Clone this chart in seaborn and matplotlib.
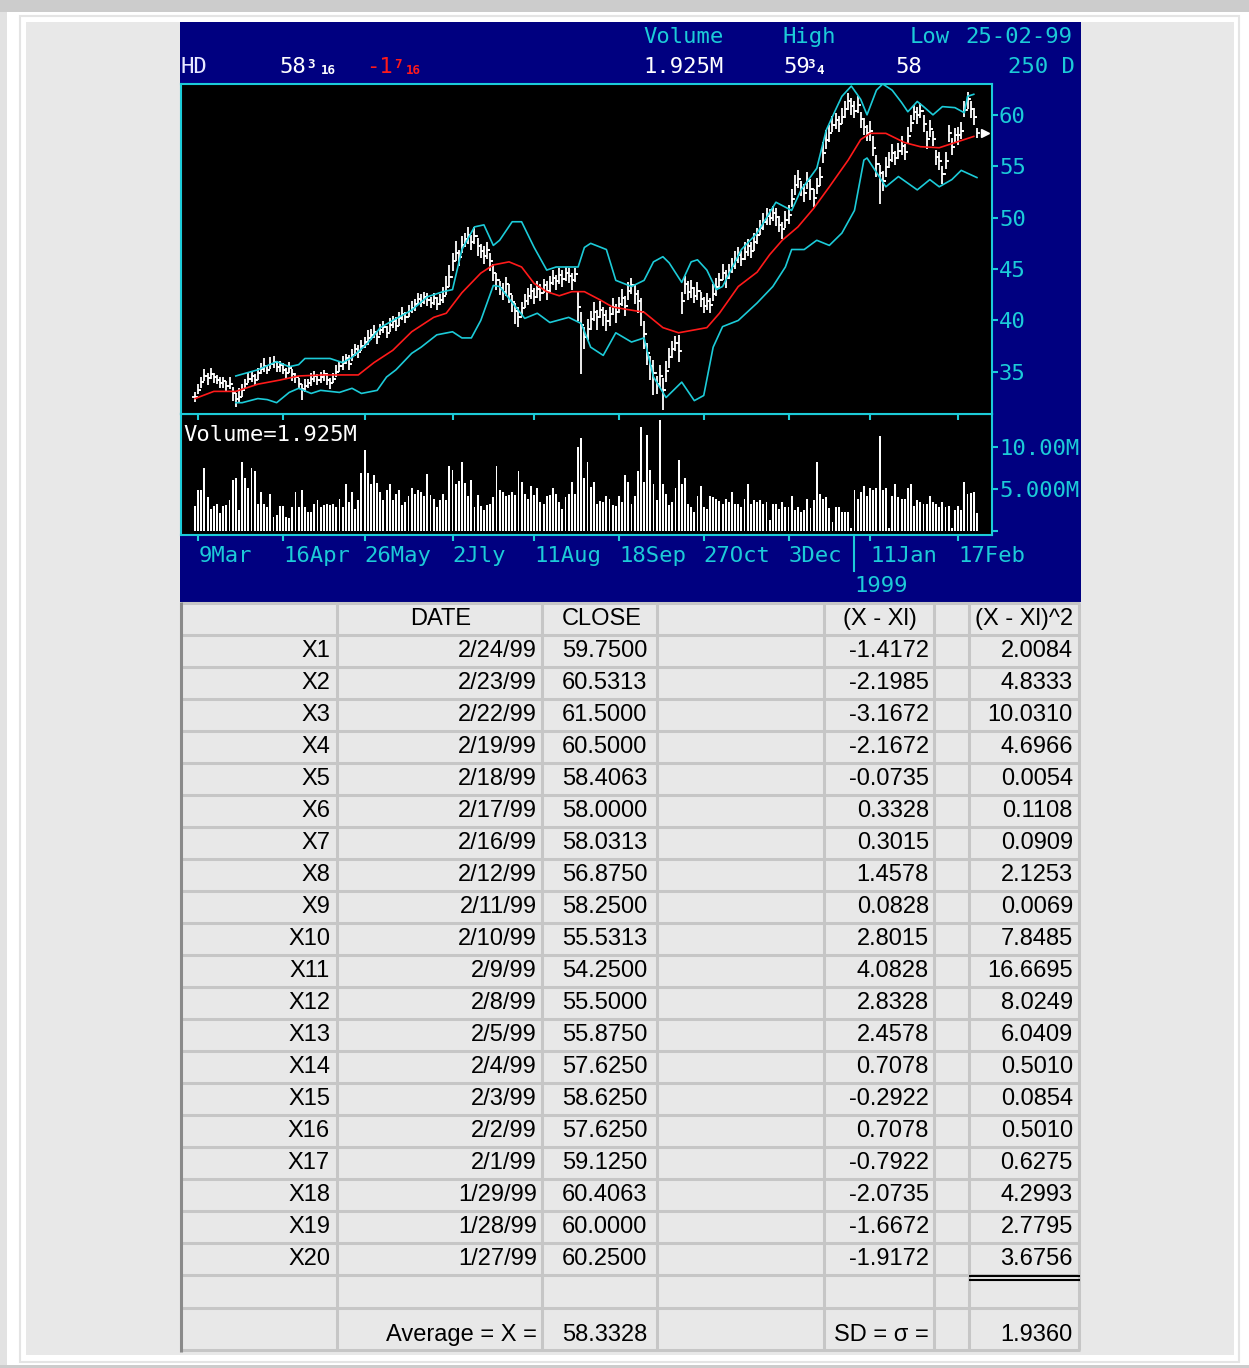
#
# plot.py
#   - HD 250-day bar chart with Bollinger bands, volume and a close-price table.
#

import numpy as np
import seaborn as sns
import matplotlib.pyplot as plt
from matplotlib.patches import Rectangle
from matplotlib import transforms

# ---- price history (daily closes, 9 Mar 98 .. 26 Jan 99) ----
close_hist = [
    32.6, 33.2, 34.0, 34.6, 34.4, 34.8, 34.5, 34.2, 33.9, 34.1,
    33.6, 33.8, 32.9, 32.4, 32.6, 33.2, 33.8, 34.3, 34.6, 34.2,
    34.9, 35.3, 35.6, 35.2, 35.8, 36.0, 35.5, 35.7, 35.2, 34.9,
    35.4, 34.8, 34.5, 33.8, 33.3, 33.6, 33.9, 34.3, 34.6, 34.2,
    34.5, 34.8, 34.2, 33.9, 34.3, 35.0, 35.6, 35.9, 36.3, 35.8,
    36.6, 37.2, 36.9, 37.5, 37.9, 38.3, 38.6, 38.9, 38.4, 39.1,
    39.4, 38.8, 39.6, 39.9, 39.5, 40.2, 40.6, 40.3, 40.9, 41.2,
    41.6, 42.1, 41.8, 42.3, 42.0, 41.7, 42.2, 41.6, 42.0, 42.4,
    43.3, 44.2, 45.8, 46.6, 46.2, 47.3, 47.9, 48.3, 47.6, 48.2,
    47.2, 46.8, 46.3, 46.9, 45.8, 44.6, 43.9, 43.2, 42.8, 43.5,
    42.6, 41.8, 40.9, 40.3, 41.2, 41.9, 42.4, 42.9, 42.3, 43.1,
    42.7, 43.4, 42.9, 43.6, 44.1, 43.8, 44.4, 44.0, 44.6, 44.3,
    43.9, 44.5, 41.3, 39.6, 38.4, 39.2, 40.1, 40.8, 40.3, 41.0,
    40.5, 39.9, 40.6, 41.3, 40.8, 41.6, 42.2, 41.4, 42.9, 43.4,
    42.6, 41.9, 40.8, 38.7, 36.8, 35.6, 34.9, 33.8, 34.6, 33.2,
    35.1, 36.4, 37.2, 37.8, 37.0, 41.9, 43.5, 42.8, 43.2, 42.4,
    42.9, 42.1, 41.4, 41.9, 41.5, 42.6, 43.3, 43.9, 44.6, 44.1,
    44.8, 45.3, 45.9, 46.4, 46.0, 46.7, 47.2, 46.8, 47.6, 48.3,
    49.0, 49.6, 50.2, 50.0, 50.5, 50.1, 49.3, 48.9, 49.8, 50.3,
    51.8, 53.2, 53.8, 52.9, 52.4, 53.6, 52.8, 51.9, 53.1, 54.0,
    56.3, 57.6, 58.2, 59.0, 59.5, 59.1, 59.8, 60.6, 61.3, 60.9,
    60.4, 61.0, 59.6, 58.8, 58.2, 58.4, 56.8, 55.2, 54.3, 53.6,
    54.9, 55.6, 56.3, 55.8, 56.5, 57.0, 56.4, 57.9, 59.2,
]
last_close = 58.1875

# how far each bar's high / low reaches beyond the close
hi_ext = [
    .4, .6, .5, .7, .5, .6, .4, .5, .6, .4, .5, .7, .6, .5, .8, .6, .5, .7, .4, .6, .5, .6, .7, .5, .6,
    .5, .6, .4, .7, .5, .6, .5, .4, .6, .5, .7, .4, .6, .5, .6, .5, .4, .7, .5, .6, .7, .5, .6, .4, .8,
    .6, .5, .7, .6, .5, .8, .6, .7, .5, .6, .5, .7, .6, .5, .8, .6, .7, .5, .6, .7, .5, .6, .8, .5, .7,
    .6, .5, .7, .6, .9, 1.0, 1.2, .8, 1.1, .7, .9, .6, .8, .7, .9, .8, .6, .9, .7, .8, .9, .7, .6, .8, .7,
    .9, .7, .8, 1.0, .6, .7, .8, .6, .9, .7, .8, .6, .9, .7, .8, .6, .7, .9, .6, .8, .7, .6, 1.5, 1.2, 1.0,
    .9, .8, 1.0, .7, .9, .8, 1.1, .7, .9, .8, .7, .9, 1.0, .8, .7, .9, 1.1, 1.4, 1.2, 1.0, .9, 1.3, .8, 1.1, 1.2,
    1.0, .9, .8, .7, 1.6, .9, .8, 1.0, .7, .9, .8, .7, .9, .8, .7, .9, .8, .7, .9, .8, .7, .8, .9, .7, .8,
    .9, .7, .8, .9, .7, .8, .9, .7, .8, .6, .8, .9, .7, .8, .9, 1.0, .9, .8, .7, .9, .8, 1.0, .9, .8, .9,
    1.1, .9, .8, .9, .7, .8, .9, .7, .8, .7, .9, .8, .7, .9, .8, 1.0, 1.1, .9, .8, .9, 1.0, .8, .9, .7, .8,
    .9, .8, .9, .8, .7, .8, .7, .9, .8, .9, .8, .7, .9, .8, .9, .8, .9, .7, .8, .9, .8, .7, .8, .9, .5,
]
lo_ext = [
    .5, .4, .6, .5, .7, .5, .6, .4, .5, .7, .6, .5, .7, .8, .5, .6, .5, .4, .6, .5, .7, .5, .6, .4, .5,
    .6, .5, .7, .4, .6, .5, .7, .6, .5, 1.0, .6, .5, .7, .6, .5, .6, .7, .5, .6, .4, .5, .6, .7, .5, .6,
    .5, .7, .6, .5, .6, .7, .5, .6, .7, .5, .6, .5, .7, .6, .5, .7, .6, .5, .6, .5, .7, .6, .5, .7, .6,
    .5, .7, .6, .5, .7, .8, .9, 1.0, .8, .9, .7, .8, .9, .7, .8, .9, .7, .8, .9, 1.0, .8, .9, .7, .8, 1.1,
    .9, 1.0, 1.2, .9, .8, .7, .9, .8, .7, .9, .8, .7, .9, .8, .7, .8, .9, .7, .8, .7, .9, .8, 1.4, 4.8, 1.2,
    1.1, 1.0, .9, 1.2, .8, 1.0, .9, 1.1, .8, 1.0, .9, .8, 1.0, .9, .8, 1.0, 1.2, 1.3, 1.5, 1.1, 1.4, 2.2, 1.0, 1.2, 1.9,
    1.1, 1.0, .9, .8, 1.0, 1.3, .9, .8, 1.0, .7, .9, .8, .7, .9, .8, .7, .9, .8, .7, .9, .8, .7, .9, .8, .7,
    .8, .9, .7, .8, .9, .7, .8, .9, .7, .8, .9, .7, 1.0, .8, .9, .8, 1.0, .9, .8, .9, .8, 1.1, .9, .8, .9,
    1.0, .9, .8, .7, .9, .8, .7, .9, .8, .9, .7, .8, .9, .8, .7, .9, .8, 1.2, 3.0, 1.0, .9, .8, .9, .7, .8,
    .9, .8, .7, .9, .8, .9, .7, .8, .9, .8, .7, .8, .9, 1.0, .8, .9, .8, .7, .9, .8, .7, .9, .8, .7, .4,
]

# daily volume, millions of shares
volume = [
    3.0, 4.9, 4.9, 7.5, 4.0, 2.6, 3.0, 3.2, 2.1, 3.0,
    3.1, 3.7, 6.1, 6.3, 2.5, 8.2, 6.3, 5.1, 7.5,
    7.1, 3.2, 4.6, 3.2, 2.9, 4.4, 1.7, 1.9, 3.0,
    3.0, 1.7, 1.6, 2.9, 4.6, 2.8, 4.9, 2.8, 2.3,
    2.3, 3.2, 3.7, 2.9, 3.1, 3.2, 3.1, 3.2, 2.9, 3.8,
    2.8, 5.6, 3.5, 4.6, 2.6, 3.7, 6.9, 9.6, 6.9,
    5.6, 6.7, 5.7, 4.6, 3.7, 4.9, 5.6, 3.7, 4.4,
    4.9, 3.1, 3.4, 4.2, 5.1, 4.4, 4.9, 4.6, 4.2, 6.8,
    4.3, 3.8, 2.9, 3.7, 4.4, 3.7, 7.7, 7.3, 5.6,
    5.9, 8.2, 5.7, 4.2, 6.1, 2.9, 4.3, 3.0, 2.5,
    3.1, 3.2, 4.1, 7.7, 4.9, 4.6, 4.2, 4.3, 4.6,
    4.3, 7.1, 5.8, 4.4, 3.8, 5.4, 4.3, 5.1, 3.5,
    3.2, 4.2, 4.3, 5.1, 4.4, 3.5, 2.6, 4.1, 4.4,
    5.8, 4.4, 10.0, 11.1, 6.3, 8.2, 5.2, 5.8, 3.2,
    3.6, 3.4, 4.2, 3.8, 3.1, 3.0, 4.2, 3.5, 6.7,
    5.8, 3.2, 4.2, 7.1, 12.4, 5.8, 11.4, 7.3, 5.6, 3.7,
    13.2, 5.6, 4.4, 3.1, 3.5, 5.1, 8.5, 5.6, 6.3, 3.2,
    2.8, 2.3, 4.2, 5.4, 2.9, 2.6, 4.2, 4.0, 3.8, 3.6,
    3.2, 3.8, 3.4, 4.6, 3.2, 3.2, 2.8, 3.8, 5.6, 3.2,
    3.7, 3.5, 3.7, 3.2, 3.5, 1.3, 3.2, 3.2, 2.6, 3.5,
    2.9, 2.8, 4.2, 2.5, 2.9, 2.3, 2.5, 3.8, 2.7, 3.7,
    8.2, 4.4, 3.8, 4.0, 2.7, 1.1, 2.8, 2.8, 2.3, 2.3,
    2.3, 0.4, 4.9, 3.8, 4.6, 5.4, 4.2, 5.1, 4.9, 5.1,
    11.3, 4.9, 5.1, 0.4, 4.2, 5.6, 4.0, 3.8, 3.8, 5.1,
    5.6, 3.0, 3.7, 3.4, 3.2, 3.2, 4.2, 3.5, 3.2, 2.9,
    3.5, 2.9, 3.0, 0.4, 2.5, 3.0, 2.5, 5.8, 4.4, 4.5,
    4.6, 2.1,
]

# moving average and Bollinger bands (day index, price)
ma_day = [0, 6, 13, 20, 27, 33, 41, 52, 57, 63, 69, 76, 80, 85, 91, 95, 100, 104, 108, 112,
          116, 120, 124, 129, 133, 139, 143, 149, 154, 163, 167, 173, 179, 183, 187, 192, 197,
          202, 208, 212, 215, 220, 226, 231, 237, 243, 248]
ma_val = [32.4, 33.1, 33.1, 33.8, 34.2, 34.6, 34.7, 34.7, 35.9, 37.1, 38.9, 40.3, 40.7, 42.7,
          44.6, 45.4, 45.7, 45.2, 43.6, 42.8, 42.4, 42.8, 42.8, 42.0, 41.3, 41.0, 40.8, 39.3,
          38.8, 39.3, 40.7, 43.3, 44.7, 46.4, 47.8, 49.1, 50.9, 53.0, 55.6, 57.6, 58.2, 58.2,
          57.3, 56.9, 56.8, 57.4, 57.9]
up_day = [13, 20, 26, 30, 33, 35, 43, 47, 50, 55, 59, 63, 69, 74, 79, 82, 85, 89, 92, 95,
          97, 101, 104, 108, 112, 115, 122, 124, 126, 131, 134, 139, 143, 146, 149, 151, 155,
          158, 160, 163, 166, 168, 174, 179, 185, 190, 193, 198, 201, 204, 206, 209, 212, 214,
          217, 219, 222, 225, 227, 230, 232, 235, 238, 242, 245, 246, 248]
up_val = [34.6, 35.2, 36.0, 35.5, 35.7, 36.3, 36.3, 35.9, 36.4, 37.8, 39.3, 40.0, 41.0, 42.3,
          42.8, 43.0, 46.9, 49.1, 49.3, 47.3, 47.8, 49.6, 49.6, 47.1, 44.9, 45.2, 45.2, 47.1,
          47.5, 46.9, 43.9, 43.3, 43.9, 45.7, 46.2, 45.6, 43.7, 45.7, 45.9, 44.9, 43.0, 43.3,
          46.9, 48.5, 51.5, 50.7, 52.7, 54.8, 58.5, 60.5, 61.8, 62.8, 61.5, 60.0, 62.4, 63.0,
          62.4, 61.2, 60.3, 61.3, 60.8, 60.0, 60.8, 60.7, 60.2, 61.8, 62.0]
lo_day = [13, 15, 20, 23, 26, 30, 33, 37, 40, 46, 50, 53, 58, 61, 64, 69, 72, 77, 82, 85,
          88, 91, 95, 97, 105, 109, 113, 119, 123, 126, 130, 134, 139, 143, 146, 150, 155,
          159, 162, 165, 168, 173, 179, 184, 188, 190, 194, 198, 202, 206, 210, 213, 214,
          217, 220, 224, 230, 234, 237, 241, 244, 249]
lo_val = [32.0, 32.0, 32.4, 32.3, 32.0, 33.0, 33.4, 32.9, 33.2, 33.0, 33.4, 32.9, 33.2, 34.5,
          35.2, 36.8, 37.4, 38.6, 38.9, 38.3, 38.3, 40.0, 43.4, 43.3, 40.2, 40.7, 39.8, 40.3,
          39.7, 37.4, 36.6, 38.8, 37.9, 38.3, 34.5, 32.5, 34.0, 32.2, 32.7, 37.4, 39.4, 40.0,
          41.7, 43.3, 45.2, 46.9, 46.9, 47.8, 47.3, 48.5, 50.7, 55.6, 55.8, 54.4, 53.0, 54.0,
          52.7, 53.7, 53.0, 53.7, 54.6, 53.9]

tick_pos = [1, 28, 54, 82, 108, 135, 162, 189, 215, 243]
tick_labels = ["9Mar", "16Apr", "26May", "2Jly", "11Aug", "18Sep", "27Oct", "3Dec", "11Jan", "17Feb"]
year_pos = 210

# ---- table (most recent first) ----
tbl_labels = ["X%d" % (i + 1) for i in range(20)]
tbl_dates = ["2/24/99", "2/23/99", "2/22/99", "2/19/99", "2/18/99", "2/17/99", "2/16/99",
             "2/12/99", "2/11/99", "2/10/99", "2/9/99", "2/8/99", "2/5/99", "2/4/99",
             "2/3/99", "2/2/99", "2/1/99", "1/29/99", "1/28/99", "1/27/99"]
tbl_close = [59.7500, 60.5313, 61.5000, 60.5000, 58.4063, 58.0000, 58.0313, 56.8750, 58.2500,
             55.5313, 54.2500, 55.5000, 55.8750, 57.6250, 58.6250, 57.6250, 59.1250, 60.4063,
             60.0000, 60.2500]
tbl_dev = [-1.4172, -2.1985, -3.1672, -2.1672, -0.0735, 0.3328, 0.3015, 1.4578, 0.0828,
           2.8015, 4.0828, 2.8328, 2.4578, 0.7078, -0.2922, 0.7078, -0.7922, -2.0735,
           -1.6672, -1.9172]
tbl_sq = [2.0084, 4.8333, 10.0310, 4.6966, 0.0054, 0.1108, 0.0909, 2.1253, 0.0069, 7.8485,
          16.6695, 8.0249, 6.0409, 0.5010, 0.0854, 0.5010, 0.6275, 4.2993, 2.7795, 3.6756]
avg_close = 58.3328
sd_close = 1.9360

CYAN = "#1ccbd8"
NAVY = "#000080"
RED = "#ff1a1a"
MONO = "DejaVu Sans Mono"
SANS = "Liberation Sans"


def main():
    plt.rcParams["font.family"] = [MONO, "DejaVu Sans"]

    fig = plt.figure(figsize=(12.49, 13.68), dpi=100, facecolor="white")

    # page background, drawn in pixel units
    bg = fig.add_axes([0, 0, 1, 1], zorder=0)
    bg.set_xlim(0, 1249)
    bg.set_ylim(1368, 0)
    bg.axis("off")
    bg.add_patch(Rectangle((0, 0), 1249, 12, color="#cccccc", lw=0))
    bg.add_patch(Rectangle((0, 12), 7, 1356, color="#e2e2e2", lw=0))
    bg.add_patch(Rectangle((0, 1365), 1249, 3, color="#cccccc", lw=0))
    bg.add_patch(Rectangle((20, 16), 1219, 1346, fill=False, ec="#e4e4e4", lw=1.5))
    bg.add_patch(Rectangle((26, 22), 1208, 1333, color="#e8e8e8", lw=0))
    bg.add_patch(Rectangle((180, 22), 901, 580, color=NAVY, lw=0))

    # header lines
    big = dict(family=MONO, fontsize=16, va="center", ha="left")
    small = dict(family=MONO, fontsize=9, va="center", ha="left", weight="bold")
    bg.text(643, 37, "Volume", color=CYAN, **big)
    bg.text(783, 37, "High", color=CYAN, **big)
    bg.text(910, 37, "Low", color=CYAN, **big)
    bg.text(965, 37, "25-02-99", color=CYAN, **big)
    bg.text(181, 67, "HD", color="#e8e8ff", **big)
    bg.text(279, 67, "58", color="white", **big)
    bg.text(307, 64, "3", color="white", **small)
    bg.text(321, 70, "16", color="white", **small)
    bg.text(366, 67, "-1", color=RED, **big)
    bg.text(394, 64, "7", color=RED, **small)
    bg.text(406, 70, "16", color=RED, **small)
    bg.text(643, 67, "1.925M", color="white", **big)
    bg.text(783, 67, "59", color="white", **big)
    bg.text(807, 64, "3", color="white", **small)
    bg.text(816, 70, "4", color="white", **small)
    bg.text(895, 67, "58", color="white", **big)
    bg.text(1008, 67, "250 D", color=CYAN, **big)

    # ---- price panel ----
    W, H = 1249.0, 1368.0
    ax_p = fig.add_axes([181 / W, 1 - 414 / H, 811 / W, 330 / H], zorder=3)
    ax_v = fig.add_axes([181 / W, 1 - 535 / H, 811 / W, 121 / H], zorder=2)

    close = np.array(close_hist + tbl_close[::-1] + [last_close])
    n = len(close)
    x = np.arange(n)
    high = close + np.array(hi_ext[:n])
    low = close - np.array(lo_ext[:n])
    open_ = np.r_[close[0], close[:-1]]

    ax_p.set_facecolor("black")
    ax_p.vlines(x, low, high, colors="white", lw=1.3)
    ax_p.hlines(close, x, x + 0.9, colors="white", lw=1.3)
    ax_p.hlines(open_, x - 0.9, x, colors="white", lw=1.3)
    sns.lineplot(x=up_day, y=up_val, ax=ax_p, color=CYAN, lw=1.2, estimator=None, sort=False)
    sns.lineplot(x=lo_day, y=lo_val, ax=ax_p, color=CYAN, lw=1.2, estimator=None, sort=False)
    sns.lineplot(x=ma_day, y=ma_val, ax=ax_p, color=RED, lw=1.2, estimator=None, sort=False)
    ax_p.plot([n + 1.5], [close[-1]], marker=">", color="white", ms=6, clip_on=False)

    ax_p.set_xlim(-4.46, 253.8)
    ax_p.set_ylim(30.9, 63.0)
    ax_p.set_xlabel("")
    ax_p.set_ylabel("")
    ax_p.yaxis.tick_right()
    ax_p.set_yticks([35, 40, 45, 50, 55, 60])
    ax_p.set_xticks(tick_pos)
    ax_p.tick_params(axis="x", direction="out", length=4, width=1.5, color=CYAN,
                     labelbottom=False)
    ax_p.tick_params(axis="y", direction="out", length=4, width=1.5, color=CYAN,
                     labelcolor=CYAN, labelsize=16, pad=1)
    for s in ax_p.spines.values():
        s.set_color(CYAN)
        s.set_linewidth(1.5)

    # ---- volume panel ----
    ax_v.set_facecolor("black")
    ax_v.bar(np.arange(len(volume)), volume, width=0.6, color="white", lw=0)
    ax_v.set_xlim(-4.46, 253.8)
    ax_v.set_ylim(-0.48, 13.93)
    ax_v.yaxis.tick_right()
    ax_v.set_yticks([0, 5, 10], ["", "5.000M", "10.00M"])
    ax_v.set_xticks(tick_pos, tick_labels)
    for lbl in ax_v.get_xticklabels():
        lbl.set_horizontalalignment("left")
    ax_v.tick_params(axis="x", direction="out", length=4, width=1.5, color=CYAN,
                     labelcolor=CYAN, labelsize=16, pad=4)
    ax_v.tick_params(axis="y", direction="out", length=4, width=1.5, color=CYAN,
                     labelcolor=CYAN, labelsize=16, pad=1)
    for s in ax_v.spines.values():
        s.set_color(CYAN)
        s.set_linewidth(1.5)
    ax_v.text(0.003, 0.83, "Volume=1.925M", transform=ax_v.transAxes, color="white",
              fontsize=16, family=MONO, va="center", ha="left")
    blend = transforms.blended_transform_factory(ax_v.transData, ax_v.transAxes)
    ax_v.plot([year_pos, year_pos], [0, -0.30], color=CYAN, lw=1.5, transform=blend,
              clip_on=False)
    ax_v.text(year_pos, -0.42, "1999", transform=blend, color=CYAN, fontsize=16,
              family=MONO, ha="left", va="center")

    # ---- table ----
    grid = "#c6c6c6"
    col_x = [337, 542, 657, 824, 934, 969, 1079]
    row_y = [603] + [635 + 32 * i for i in range(21)] + [1308, 1350]
    for cx in col_x:
        bg.plot([cx, cx], [603, 1350], color=grid, lw=2.2, solid_capstyle="butt")
    for ry in row_y:
        bg.plot([181, 1080], [ry, ry], color=grid, lw=2.2, solid_capstyle="butt")
    bg.plot([181, 181], [602, 1352], color="#8a8a8a", lw=2.2, solid_capstyle="butt")
    bg.plot([969, 1080], [1275.5, 1275.5], color="black", lw=1.5, solid_capstyle="butt")
    bg.plot([969, 1080], [1279.5, 1279.5], color="black", lw=1.5, solid_capstyle="butt")

    tt = dict(family=[SANS, "DejaVu Sans"], fontsize=17, color="black", va="center")
    bg.text(441, 619, "DATE", ha="center", **tt)
    bg.text(562, 619, "CLOSE", ha="left", **tt)
    bg.text(880, 619, "(X - Xl)", ha="center", **tt)
    bg.text(1024, 619, "(X - Xl)^2", ha="center", **tt)
    for i in range(len(tbl_dates)):
        y = 651 + 32 * i
        bg.text(330, y, tbl_labels[i], ha="right", **tt)
        bg.text(537, y, tbl_dates[i], ha="right", **tt)
        bg.text(562, y, "%.4f" % tbl_close[i], ha="left", **tt)
        bg.text(929, y, "%.4f" % tbl_dev[i], ha="right", **tt)
        bg.text(1073, y, "%.4f" % tbl_sq[i], ha="right", **tt)
    bg.text(537, 1335, "Average = X =", ha="right", **tt)
    bg.text(562, 1335, "%.4f" % avg_close, ha="left", **tt)
    bg.text(929, 1335, "SD = \u03c3 =", ha="right", **tt)
    bg.text(1073, 1335, "%.4f" % sd_close, ha="right", **tt)

    fig.savefig("out.png", dpi=100, facecolor=fig.get_facecolor())


if __name__ == '__main__':
    main()
